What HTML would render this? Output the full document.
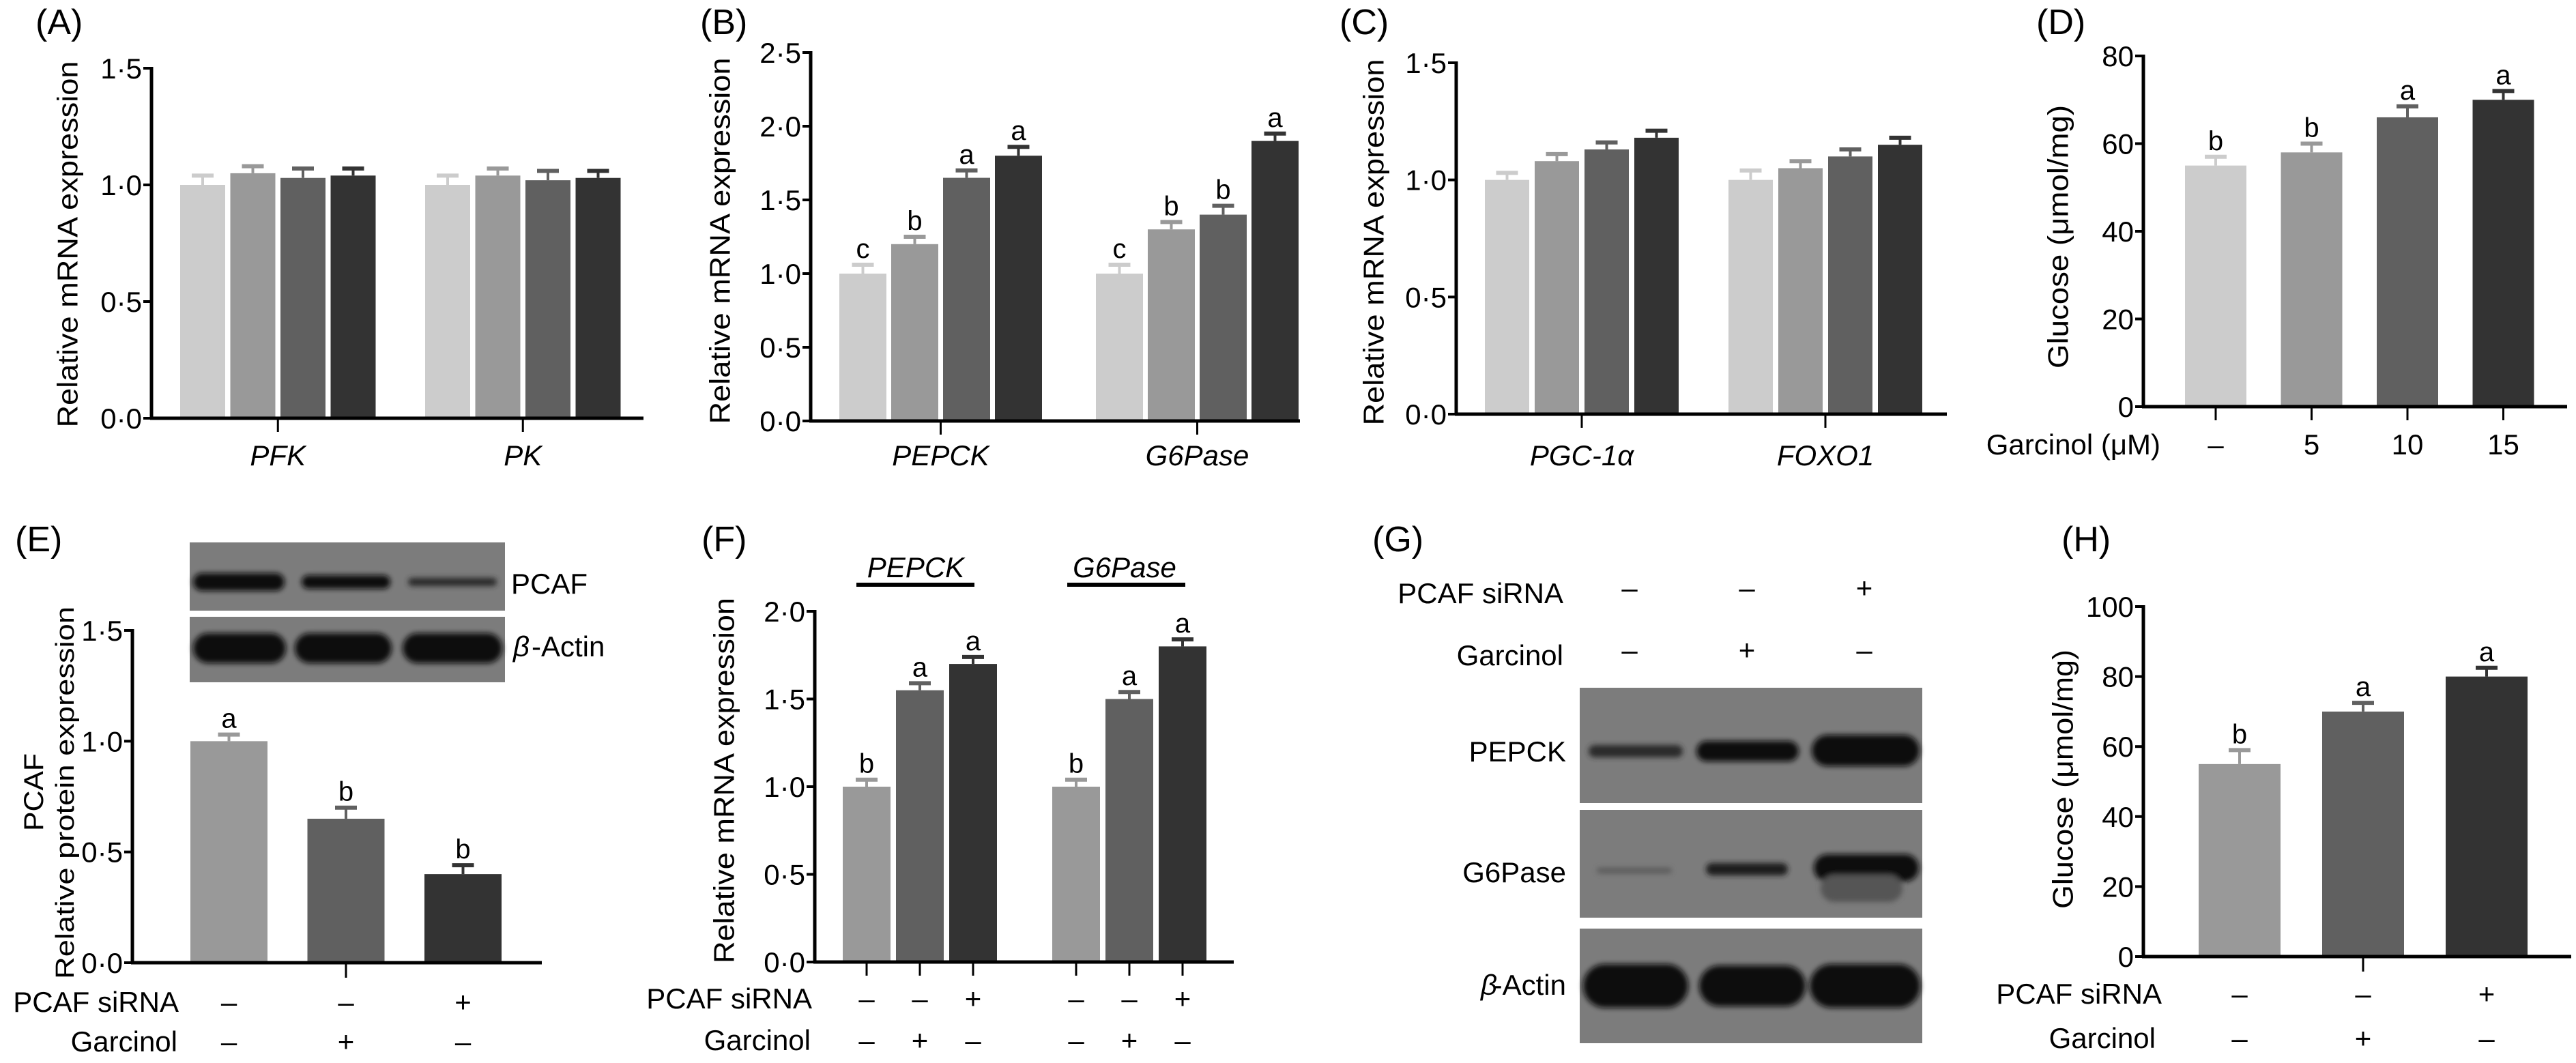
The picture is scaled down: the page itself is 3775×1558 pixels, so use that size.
<!DOCTYPE html>
<html><head><meta charset="utf-8">
<style>
html,body{margin:0;padding:0;background:#fff;}
svg text{font-family:"Liberation Sans",Arial,sans-serif;fill:#000;}
</style></head>
<body>
<svg id="fig" xmlns="http://www.w3.org/2000/svg" width="3775" height="1553" viewBox="0 0 3775 1553">
<defs>
<filter id="blur" x="-20%" y="-50%" width="140%" height="200%"><feGaussianBlur stdDeviation="4"/></filter>
</defs>
</svg>
<script>
// ---- data ----
const aCategories = ["PFK", "PK"];
const aValues = [[1.0, 1.05, 1.03, 1.04], [1.0, 1.04, 1.02, 1.03]];
const aErrors = [[0.04, 0.03, 0.04, 0.03], [0.04, 0.03, 0.04, 0.03]];
const aTicks = [0, 0.5, 1.0, 1.5];

const bCategories = ["PEPCK", "G6Pase"];
const bValues = [[1.0, 1.2, 1.65, 1.8], [1.0, 1.3, 1.4, 1.9]];
const bErrors = [[0.06, 0.05, 0.05, 0.06], [0.06, 0.05, 0.06, 0.05]];
const bLetters = [["c", "b", "a", "a"], ["c", "b", "b", "a"]];
const bTicks = [0, 0.5, 1.0, 1.5, 2.0, 2.5];

const cCategories = ["PGC-1α", "FOXO1"];
const cValues = [[1.0, 1.08, 1.13, 1.18], [1.0, 1.05, 1.10, 1.15]];
const cErrors = [[0.03, 0.03, 0.03, 0.03], [0.04, 0.03, 0.03, 0.03]];
const cTicks = [0, 0.5, 1.0, 1.5];

const dCategories = ["–", "5", "10", "15"];
const dValues = [[55, 58, 66, 70]];
const dErrors = [[2, 2, 2.5, 2]];
const dLetters = [["b", "b", "a", "a"]];
const dTicks = [0, 20, 40, 60, 80];

const eValues = [[1.0, 0.65, 0.40]];
const eErrors = [[0.03, 0.05, 0.04]];
const eLetters = [["a", "b", "b"]];
const eTicks = [0, 0.5, 1.0, 1.5];
const eSiRNA = ["–", "–", "+"];
const eGarcinol = ["–", "+", "–"];

const fCategories = ["PEPCK", "G6Pase"];
const fValues = [[1.0, 1.55, 1.7], [1.0, 1.5, 1.8]];
const fErrors = [[0.04, 0.04, 0.04], [0.04, 0.04, 0.04]];
const fLetters = [["b", "a", "a"], ["b", "a", "a"]];
const fTicks = [0, 0.5, 1.0, 1.5, 2.0];
const fSiRNA = ["–", "–", "+"];
const fGarcinol = ["–", "+", "–"];

const gSiRNA = ["–", "–", "+"];
const gGarcinol = ["–", "+", "–"];

const hValues = [[55, 70, 80]];
const hErrors = [[4, 2.5, 2.5]];
const hLetters = [["b", "a", "a"]];
const hTicks = [0, 20, 40, 60, 80, 100];
const hSiRNA = ["–", "–", "+"];
const hGarcinol = ["–", "+", "–"];

// ---- helpers ----
const NS = "http://www.w3.org/2000/svg";
const svg = document.getElementById("fig");
function mk(tag, attrs, parent) {
  const e = document.createElementNS(NS, tag);
  for (const k in attrs) e.setAttribute(k, attrs[k]);
  (parent || svg).appendChild(e);
  return e;
}
function txt(str, attrs, parent) {
  const t = mk("text", attrs, parent);
  t.textContent = str;
  return t;
}
const C4 = ["#cccccc", "#999999", "#606060", "#333333"];
const C3 = ["#999999", "#606060", "#333333"];
function fmt(v, dot) { return dot ? v.toFixed(1).replace(".", "·") : String(v); }

function drawChart(o) {
  const g = mk("g", {});
  
  
  const yScale = v => o.yBase - (v / o.vmax) * (o.yBase - o.yTop);
  const xBar = (gi, bi) => o.x0 + o.off + gi * o.gstep + bi * o.step;
  o.values.forEach((grp, gi) => {
    grp.forEach((v, bi) => {
      const x = xBar(gi, bi), y = yScale(v);
      const col = o.colors[bi];
      const r = mk("rect", {x: x, y: y, width: o.bw, height: o.yBase - y, fill: col}, g);
      
      
      const ye = yScale(v + o.errs[gi][bi]);
      const cx = x + o.bw / 2;
      const eb = mk("line", {x1: cx, x2: cx, y1: y, y2: ye, stroke: col, "stroke-width": 4}, g);
      
      
      mk("line", {x1: cx - 16, x2: cx + 16, y1: ye, y2: ye, stroke: col, "stroke-width": 6}, g);
      if (o.letters) {
        const l = txt(o.letters[gi][bi], {x: cx, y: ye - 10, "font-size": 40, "text-anchor": "middle"}, g);
        
        
      }
    });
  });
  const ya = mk("line", {x1: o.x0, x2: o.x0, y1: o.yTop - 2, y2: o.yBase + 2, stroke: "#000", "stroke-width": 5}, g);
  
  
  o.ticks.forEach(t => {
    const y = yScale(t);
    mk("line", {x1: o.x0 - 12, x2: o.x0, y1: y, y2: y, stroke: "#000", "stroke-width": 4}, g);
    const tl = txt(fmt(t, o.dot), {x: o.x0 - 14, y: y + 15, "font-size": 42, "text-anchor": "end"}, g);
    
    
  });
  const xa = mk("line", {x1: o.x0 - 2, x2: o.xEnd, y1: o.yBase, y2: o.yBase, stroke: "#000", "stroke-width": 5}, g);
  
  
  const nb = o.values[0].length;
  o.values.forEach((grp, gi) => {
    if (o.perBarTicks) {
      grp.forEach((v, bi) => {
        const cx = xBar(gi, bi) + o.bw / 2;
        mk("line", {x1: cx, x2: cx, y1: o.yBase, y2: o.yBase + 20, stroke: "#000", "stroke-width": 3}, g);
      });
    } else if (!o.singleTick) {
      const cx = (xBar(gi, 0) + xBar(gi, nb - 1) + o.bw) / 2;
      mk("line", {x1: cx, x2: cx, y1: o.yBase, y2: o.yBase + 20, stroke: "#000", "stroke-width": 3}, g);
      if (o.cats) {
        const cl = txt(o.cats[gi], {x: cx, y: o.catY, "font-size": 42, "font-style": "italic", "text-anchor": "middle"}, g);
        
        
      }
    }
  });
  if (o.singleTick) {
    const cx = (xBar(0, 0) + xBar(0, nb - 1) + o.bw) / 2;
    mk("line", {x1: cx, x2: cx, y1: o.yBase, y2: o.yBase + 22, stroke: "#000", "stroke-width": 3}, g);
  }
  (o.rows || []).forEach(row => {
    const lab = txt(row.label, {x: row.lx, y: row.y, "font-size": 42, "text-anchor": "end"}, g);
    
    
    o.values.forEach((grp, gi) => {
      grp.forEach((v, bi) => {
        const cx = xBar(gi, bi) + o.bw / 2;
        const s = txt(row.signs[bi], {x: cx, y: row.y, "font-size": 42, "text-anchor": "middle"}, g);
        
        
      });
    });
  });
  o.ytitle.forEach(t => {
    const yt = txt(t.s, {x: 0, y: 0, "font-size": t.fs || 42, "text-anchor": "middle", "dominant-baseline": "central",
      textLength: t.len, lengthAdjust: "spacingAndGlyphs", transform: `translate(${t.x},${t.y}) rotate(-90)`}, g);
    
    
  });
  return {xBar, yScale};
}

function panelLabel(s, x, y) {
  const t = txt(s, {x: x, y: y, "font-size": 52});
  
  
}

// ---- panels ----
panelLabel("(A)", 52, 50);
drawChart({name: "panel-a-chart", x0: 222, xEnd: 943, yBase: 613, yTop: 100, vmax: 1.5, ticks: aTicks, dot: true,
  off: 42, bw: 66, step: 73.5, gstep: 359, values: aValues, errs: aErrors, colors: C4,
  cats: aCategories, catY: 682,
  ytitle: [{s: "Relative mRNA expression", x: 99, y: 358, len: 537}]});

panelLabel("(B)", 1026, 50);
drawChart({name: "panel-b-chart", x0: 1188, xEnd: 1905, yBase: 617, yTop: 77, vmax: 2.5, ticks: bTicks, dot: true,
  off: 42, bw: 69, step: 76, gstep: 376, values: bValues, errs: bErrors, letters: bLetters, colors: C4,
  cats: bCategories, catY: 682,
  ytitle: [{s: "Relative mRNA expression", x: 1055, y: 353, len: 537}]});

panelLabel("(C)", 1963, 50);
drawChart({name: "panel-c-chart", x0: 2134, xEnd: 2853, yBase: 607, yTop: 92, vmax: 1.5, ticks: cTicks, dot: true,
  off: 42, bw: 65, step: 73, gstep: 357, values: cValues, errs: cErrors, colors: C4,
  cats: cCategories, catY: 682,
  ytitle: [{s: "Relative mRNA expression", x: 2013, y: 355, len: 537}]});

panelLabel("(D)", 2984, 50);
drawChart({name: "panel-d-chart", x0: 3141, xEnd: 3762, yBase: 596, yTop: 82, vmax: 80, ticks: dTicks, dot: false,
  off: 61, bw: 90, step: 140.5, gstep: 0, values: dValues, errs: dErrors, letters: dLetters, colors: C4,
  perBarTicks: true,
  rows: [{label: "Garcinol (μM)", lx: 3166, y: 666, signs: dCategories}],
  ytitle: [{s: "Glucose (μmol/mg)", x: 3016, y: 347, len: 386}]});

panelLabel("(E)", 22, 808);
drawChart({name: "panel-e-chart", x0: 194, xEnd: 794, yBase: 1411, yTop: 924, vmax: 1.5, ticks: eTicks, dot: true,
  off: 85, bw: 113, step: 171.5, gstep: 0, values: eValues, errs: eErrors, letters: eLetters, colors: C3,
  singleTick: true,
  rows: [{label: "PCAF siRNA", lx: 262, y: 1483, signs: eSiRNA}, {label: "Garcinol", lx: 260, y: 1541, signs: eGarcinol}],
  ytitle: [{s: "PCAF", x: 50, y: 1161, len: 114, fs: 40}, {s: "Relative protein expression", x: 96, y: 1162, len: 546, fs: 38}]});

panelLabel("(F)", 1028, 808);
drawChart({name: "panel-f-chart", x0: 1194, xEnd: 1808, yBase: 1410, yTop: 896, vmax: 2.0, ticks: fTicks, dot: true,
  off: 41, bw: 70, step: 78, gstep: 307, values: fValues, errs: fErrors, letters: fLetters, colors: C3,
  perBarTicks: true,
  rows: [{label: "PCAF siRNA", lx: 1190, y: 1478, signs: fSiRNA}, {label: "Garcinol", lx: 1188, y: 1539, signs: fGarcinol}],
  ytitle: [{s: "Relative mRNA expression", x: 1061, y: 1144, len: 536}]});
[[fCategories[0], 1342, 1255, 1428], [fCategories[1], 1648, 1564, 1737]].forEach(h => {
  const t = txt(h[0], {x: h[1], y: 846, "font-size": 42, "font-style": "italic", "text-anchor": "middle"});
  
  
  mk("line", {x1: h[2], x2: h[3], y1: 857, y2: 857, stroke: "#000", "stroke-width": 6});
});

panelLabel("(G)", 2011, 808);
panelLabel("(H)", 3021, 808);
drawChart({name: "panel-h-chart", x0: 3141, xEnd: 3768, yBase: 1402, yTop: 889, vmax: 100, ticks: hTicks, dot: false,
  off: 81, bw: 120, step: 181, gstep: 0, values: hValues, errs: hErrors, letters: hLetters, colors: C3,
  singleTick: true,
  rows: [{label: "PCAF siRNA", lx: 3168, y: 1471, signs: hSiRNA}, {label: "Garcinol", lx: 3159, y: 1536, signs: hGarcinol}],
  ytitle: [{s: "Glucose (μmol/mg)", x: 3023, y: 1142, len: 380}]});

// ---- blots ----
function blot(name, x, y, w, h, bands) {
  const g = mk("g", {});
  
  
  mk("rect", {x: x, y: y, width: w, height: h, fill: "#7c7c7c"}, g);
  const bg = mk("g", {filter: "url(#blur)"}, g);
  bands.forEach(b => {
    mk("rect", {x: b[0], y: b[1] - b[3] / 2, width: b[2], height: b[3], rx: b[3] / 2, fill: b[4] || "#111"}, bg);
  });
}
blot("pcaf-blot", 278, 795, 462, 100, [[283, 853, 134, 26], [442, 853, 130, 20], [598, 853, 130, 12, "#2a2a2a"]]);
blot("actin-blot-e", 278, 904, 462, 96, [[283, 950, 136, 44], [432, 950, 142, 44], [590, 950, 146, 44]]);
const eb1 = txt("PCAF", {x: 749, y: 870, "font-size": 42});
 
const eb2 = txt("-Actin", {x: 779, y: 962, "font-size": 42});
 
txt("β", {x: 752, y: 962, "font-size": 42, "font-style": "italic"});

blot("pepck-blot", 2315, 1008, 502, 169, [[2328, 1101, 138, 18, "#2a2a2a"], [2486, 1101, 150, 30], [2655, 1100, 158, 46]]);
blot("g6pase-blot", 2315, 1187, 502, 158, [[2340, 1276, 110, 8, "#5a5a5a"], [2500, 1274, 120, 18, "#1c1c1c"], [2658, 1272, 154, 40], [2668, 1302, 120, 40, "#555"]]);
blot("actin-blot-g", 2315, 1361, 502, 168, [[2320, 1445, 154, 64], [2490, 1445, 156, 60], [2652, 1445, 162, 64]]);
[["PEPCK", 1116], ["G6Pase", 1293]].forEach(l => {
  const t = txt(l[0], {x: 2295, y: l[1], "font-size": 42, "text-anchor": "end"});
   
});
const ga = txt("-Actin", {x: 2295, y: 1458, "font-size": 42, "text-anchor": "end"});
 
txt("β", {x: 2170, y: 1458, "font-size": 42, "font-style": "italic"});
const gLanes = [2388, 2560, 2732];
[["PCAF siRNA", 884, gSiRNA], ["Garcinol", 975, gGarcinol]].forEach(r => {
  const t = txt(r[0], {x: 2291, y: r[1], "font-size": 42, "text-anchor": "end"});
   
  r[2].forEach((s, i) => {
    const st = txt(s, {x: gLanes[i], y: r[1] - 8, "font-size": 42, "text-anchor": "middle"});
     
  });
});
</script>
</body></html>
